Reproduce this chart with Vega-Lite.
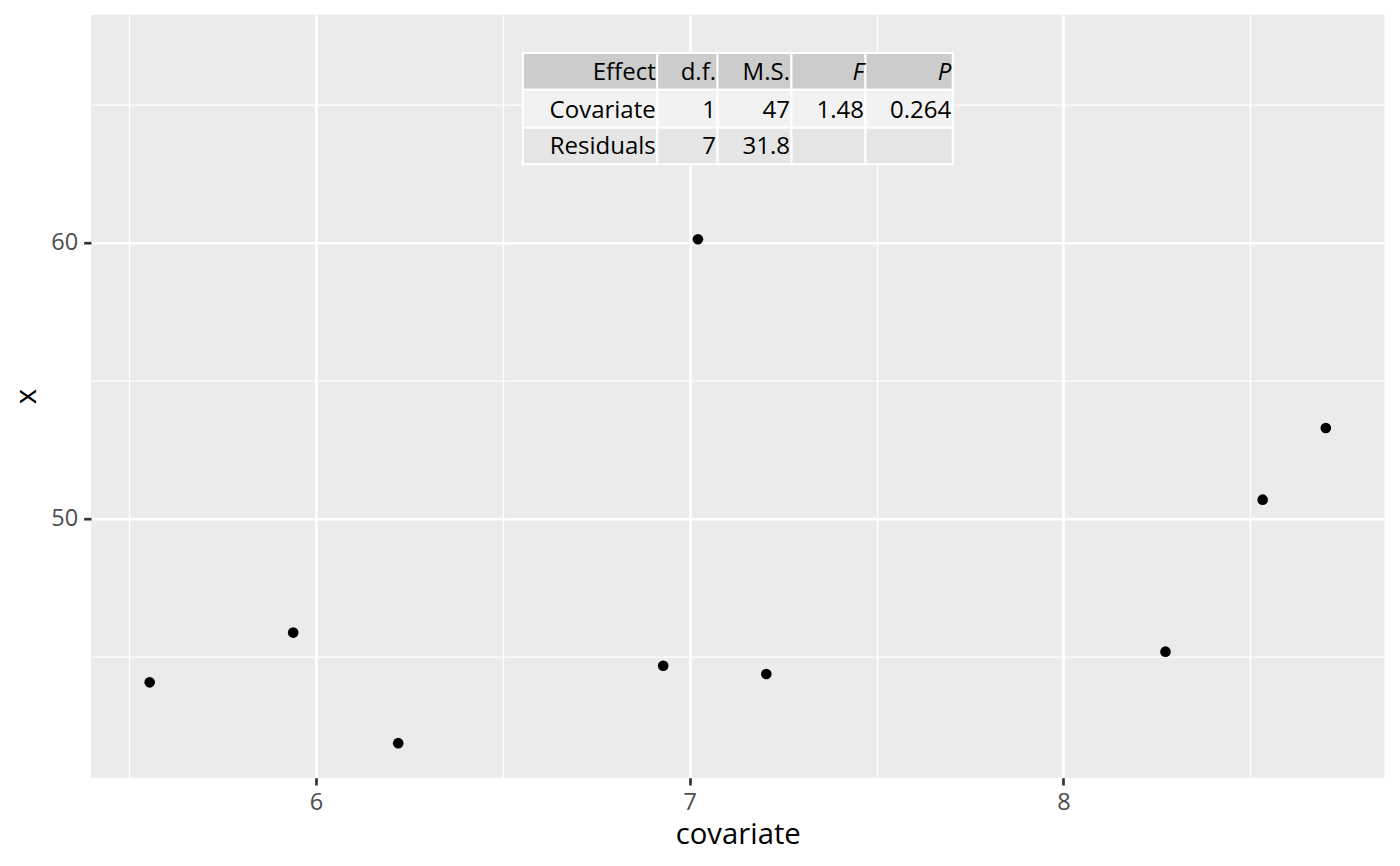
{
  "$schema": "https://vega.github.io/schema/vega-lite/v6.json",
  "width": 1293.5,
  "height": 763,
  "autosize": "none",
  "padding": {"left": 91, "top": 14.7, "right": 15.5, "bottom": 88.3},
  "background": "white",
  "config": {
    "font": "Open Sans",
    "view": {"fill": "#ebebeb", "stroke": null},
    "axis": {
      "domain": false,
      "labelColor": "#4d4d4d",
      "labelFontSize": 23.5,
      "labelFont": "Open Sans",
      "labelFlush": false,
      "labelOverlap": false,
      "tickColor": "#333333",
      "tickSize": 7.3,
      "tickWidth": 2.7,
      "gridColor": "white",
      "gridWidth": 2.6,
      "titleFont": "Open Sans",
      "titleFontSize": 29.3,
      "titleFontWeight": "normal",
      "titleColor": "black"
    }
  },
  "datasets": {
    "points": [
      {"covariate": 5.555, "x": 44.09},
      {"covariate": 5.939, "x": 45.89},
      {"covariate": 6.220, "x": 41.89},
      {"covariate": 6.929, "x": 44.69},
      {"covariate": 7.022, "x": 60.12},
      {"covariate": 7.205, "x": 44.39},
      {"covariate": 8.273, "x": 45.20},
      {"covariate": 8.533, "x": 50.70},
      {"covariate": 8.702, "x": 53.29}
    ],
    "table": [
      {"row": "header", "label": "Effect", "left": 6.5536, "right": 6.9131, "bottom": 65.532, "top": 66.860},
      {"row": "header", "label": "d.f.", "left": 6.9131, "right": 7.0744, "bottom": 65.532, "top": 66.860},
      {"row": "header", "label": "M.S.", "left": 7.0744, "right": 7.2722, "bottom": 65.532, "top": 66.860},
      {"row": "header", "label": "F", "left": 7.2722, "right": 7.4702, "bottom": 65.532, "top": 66.860},
      {"row": "header", "label": "P", "left": 7.4702, "right": 7.7037, "bottom": 65.532, "top": 66.860},
      {"row": "Covariate", "label": "Covariate", "left": 6.5536, "right": 6.9131, "bottom": 64.157, "top": 65.532},
      {"row": "Covariate", "label": "1", "left": 6.9131, "right": 7.0744, "bottom": 64.157, "top": 65.532},
      {"row": "Covariate", "label": "47", "left": 7.0744, "right": 7.2722, "bottom": 64.157, "top": 65.532},
      {"row": "Covariate", "label": "1.48", "left": 7.2722, "right": 7.4702, "bottom": 64.157, "top": 65.532},
      {"row": "Covariate", "label": "0.264", "left": 7.4702, "right": 7.7037, "bottom": 64.157, "top": 65.532},
      {"row": "Residuals", "label": "Residuals", "left": 6.5536, "right": 6.9131, "bottom": 62.833, "top": 64.157},
      {"row": "Residuals", "label": "7", "left": 6.9131, "right": 7.0744, "bottom": 62.833, "top": 64.157},
      {"row": "Residuals", "label": "31.8", "left": 7.0744, "right": 7.2722, "bottom": 62.833, "top": 64.157},
      {"row": "Residuals", "label": "", "left": 7.2722, "right": 7.4702, "bottom": 62.833, "top": 64.157},
      {"row": "Residuals", "label": "", "left": 7.4702, "right": 7.7037, "bottom": 62.833, "top": 64.157}
    ]
  },
  "resolve": {"axis": {"x": "independent", "y": "independent"}},
  "layer": [
    {
      "data": {"name": "table"},
      "mark": {"type": "rect", "stroke": "white", "strokeWidth": 2},
      "encoding": {
        "x": {
          "field": "left",
          "type": "quantitative",
          "axis": {
            "orient": "bottom",
            "values": [5.5, 6.5, 7.5, 8.5],
            "grid": true,
            "gridWidth": 1.3,
            "labels": false,
            "ticks": false,
            "title": null
          }
        },
        "x2": {"field": "right"},
        "y": {
          "field": "bottom",
          "type": "quantitative",
          "axis": {
            "orient": "left",
            "values": [45, 55, 65],
            "grid": true,
            "gridWidth": 1.3,
            "labels": false,
            "ticks": false,
            "title": null
          }
        },
        "y2": {"field": "top"},
        "color": {
          "field": "row",
          "type": "nominal",
          "scale": {
            "domain": ["header", "Covariate", "Residuals"],
            "range": ["#cccccc", "#f2f2f2", "#e5e5e5"]
          },
          "legend": null
        }
      }
    },
    {
      "data": {"name": "table"},
      "transform": [
        {"filter": "!(datum.row == 'header' && (datum.label == 'F' || datum.label == 'P'))"}
      ],
      "mark": {"type": "text", "align": "right", "baseline": "alphabetic", "dx": -1.5, "dy": -10, "fontSize": 24, "color": "black"},
      "encoding": {
        "x": {"field": "right", "type": "quantitative", "axis": null},
        "y": {"field": "bottom", "type": "quantitative", "axis": null},
        "text": {"field": "label"}
      }
    },
    {
      "data": {"name": "table"},
      "transform": [
        {"filter": "datum.row == 'header' && (datum.label == 'F' || datum.label == 'P')"}
      ],
      "mark": {"type": "text", "align": "right", "baseline": "alphabetic", "dx": -1.5, "dy": -10, "fontSize": 24, "fontStyle": "italic", "color": "black"},
      "encoding": {
        "x": {"field": "right", "type": "quantitative", "axis": null},
        "y": {"field": "bottom", "type": "quantitative", "axis": null},
        "text": {"field": "label"}
      }
    },
    {
      "data": {"name": "points"},
      "mark": {"type": "point", "filled": true, "opacity": 1, "color": "black", "size": 113},
      "encoding": {
        "x": {
          "field": "covariate",
          "type": "quantitative",
          "title": "covariate",
          "scale": {"domain": [5.398, 8.859], "nice": false, "zero": false},
          "axis": {
            "orient": "bottom",
            "values": [6, 7, 8],
            "grid": true,
            "labelPadding": 5,
            "titlePadding": 7
          }
        },
        "y": {
          "field": "x",
          "type": "quantitative",
          "title": "x",
          "scale": {"domain": [40.64, 68.245], "nice": false, "zero": false},
          "axis": {
            "orient": "left",
            "values": [50, 60],
            "grid": true,
            "labelPadding": 6,
            "titlePadding": 9
          }
        }
      }
    }
  ]
}
